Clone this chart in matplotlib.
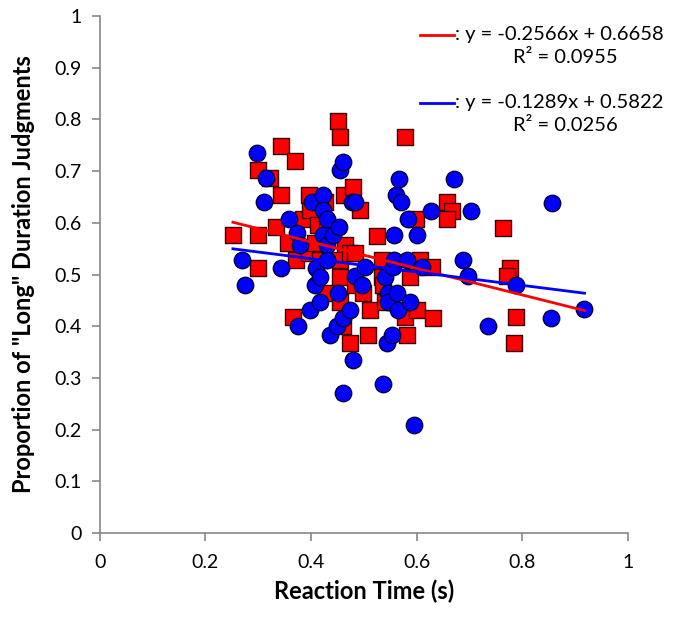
import numpy as np
import matplotlib
matplotlib.use("Agg")
from matplotlib import pyplot as plt

plt.rcParams['font.family'] = ['Lato', 'DejaVu Sans']

# red squares (reaction time, proportion long)
red_x = [0.252, 0.299, 0.299, 0.299, 0.322, 0.333, 0.343, 0.343, 0.356, 0.369,
         0.371, 0.366, 0.384, 0.396, 0.398, 0.397, 0.407, 0.413, 0.417, 0.426,
         0.430, 0.430, 0.451, 0.455, 0.462, 0.464, 0.455, 0.455, 0.455, 0.460,
         0.473, 0.473, 0.479, 0.483, 0.483, 0.492, 0.498, 0.508, 0.511, 0.525,
         0.534, 0.534, 0.536, 0.540, 0.578, 0.578, 0.581, 0.587, 0.598, 0.600,
         0.606, 0.629, 0.631, 0.657, 0.667, 0.657, 0.764, 0.776, 0.771, 0.788,
         0.784]
red_y = [0.576, 0.702, 0.576, 0.513, 0.687, 0.592, 0.749, 0.654, 0.561, 0.720,
         0.528, 0.418, 0.607, 0.654, 0.625, 0.541, 0.561, 0.596, 0.528, 0.640,
         0.596, 0.464, 0.797, 0.766, 0.654, 0.557, 0.528, 0.495, 0.447, 0.400,
         0.541, 0.368, 0.669, 0.541, 0.480, 0.625, 0.464, 0.383, 0.431, 0.574,
         0.528, 0.495, 0.480, 0.447, 0.766, 0.418, 0.383, 0.495, 0.607, 0.431,
         0.528, 0.514, 0.416, 0.640, 0.623, 0.607, 0.590, 0.513, 0.497, 0.418,
         0.368]

# blue circles
blue_x = [0.269, 0.275, 0.297, 0.314, 0.311, 0.343, 0.358, 0.373, 0.375, 0.379,
          0.398, 0.401, 0.407, 0.410, 0.417, 0.417, 0.423, 0.423, 0.423, 0.430,
          0.430, 0.430, 0.436, 0.441, 0.449, 0.451, 0.453, 0.455, 0.460, 0.460,
          0.460, 0.473, 0.477, 0.479, 0.483, 0.483, 0.496, 0.502, 0.536, 0.540,
          0.544, 0.545, 0.545, 0.553, 0.555, 0.557, 0.557, 0.561, 0.562, 0.564,
          0.566, 0.570, 0.581, 0.583, 0.587, 0.595, 0.600, 0.610, 0.628, 0.670,
          0.688, 0.697, 0.703, 0.735, 0.788, 0.854, 0.856, 0.918]
blue_y = [0.528, 0.480, 0.735, 0.687, 0.640, 0.513, 0.607, 0.580, 0.400, 0.557,
          0.431, 0.640, 0.480, 0.513, 0.495, 0.447, 0.654, 0.625, 0.576, 0.607,
          0.557, 0.528, 0.383, 0.576, 0.400, 0.464, 0.592, 0.702, 0.718, 0.416,
          0.271, 0.431, 0.640, 0.335, 0.640, 0.497, 0.480, 0.514, 0.289, 0.495,
          0.368, 0.464, 0.447, 0.383, 0.514, 0.576, 0.528, 0.654, 0.464, 0.431,
          0.685, 0.640, 0.528, 0.607, 0.447, 0.209, 0.576, 0.514, 0.623, 0.685,
          0.528, 0.497, 0.623, 0.400, 0.480, 0.416, 0.638, 0.433]

# trend line coefficients (slope, intercept) as printed on the chart
red_fit = [-0.2566, 0.6658]
blue_fit = [-0.1289, 0.5822]
red_r2 = 0.0955
blue_r2 = 0.0256

fig = plt.figure(figsize=(6.75, 6.19), dpi=100)
ax = fig.add_axes([0.148, 0.139, 0.782, 0.835])

ax.scatter(red_x, red_y, marker='s', s=125, c='#ff0000',
           edgecolors='#3a0000', linewidths=1.0, zorder=2)
ax.scatter(blue_x, blue_y, marker='o', s=140, c='#0000ff',
           edgecolors='#000040', linewidths=1.0, zorder=3)

xs = np.array([min(red_x + blue_x), max(red_x + blue_x)])
ax.plot(xs, np.polyval(red_fit, xs), color='#ff0000', lw=2, zorder=4)
ax.plot(xs, np.polyval(blue_fit, xs), color='#0000ff', lw=2, zorder=4)

ax.set_xlim(0, 1)
ax.set_ylim(0, 1)
ax.set_xticks(np.arange(0, 1.01, 0.2))
ax.set_yticks(np.arange(0, 1.01, 0.1))
ax.set_xticklabels(['0', '0.2', '0.4', '0.6', '0.8', '1'])
ax.set_yticklabels(['0'] + ['%.1f' % v for v in np.arange(0.1, 0.95, 0.1)] + ['1'])

for s in ['top', 'right']:
    ax.spines[s].set_visible(False)
for s in ['left', 'bottom']:
    ax.spines[s].set_color('#888888')
    ax.spines[s].set_linewidth(1.2)
ax.tick_params(direction='out', length=6, width=1.2, color='#888888',
               labelsize=14, labelcolor='black')
ax.tick_params(axis='x', pad=9)
ax.tick_params(axis='y', pad=7)

ax.set_xlabel('Reaction Time (s)', fontsize=17, fontweight='bold', labelpad=6)
ax.set_ylabel('Proportion of "Long" Duration Judgments', fontsize=17,
              fontweight='bold', labelpad=14)

# equation legend
def eq_text(y, color, fit, r2):
    fig.lines.append(plt.Line2D([0.622, 0.672], [y, y], color=color, lw=2,
                                transform=fig.transFigure))
    fig.text(0.674, y, ': y = %.4fx + %.4f' % (fit[0], fit[1]),
             fontsize=14.5, va='center', ha='left')
    fig.text(0.838, y - 0.037, 'R² = %.4f' % r2, fontsize=14.5,
             va='center', ha='center')

eq_text(0.944, '#ff0000', red_fit, red_r2)
eq_text(0.834, '#0000ff', blue_fit, blue_r2)

plt.savefig('out.png', dpi=100)
